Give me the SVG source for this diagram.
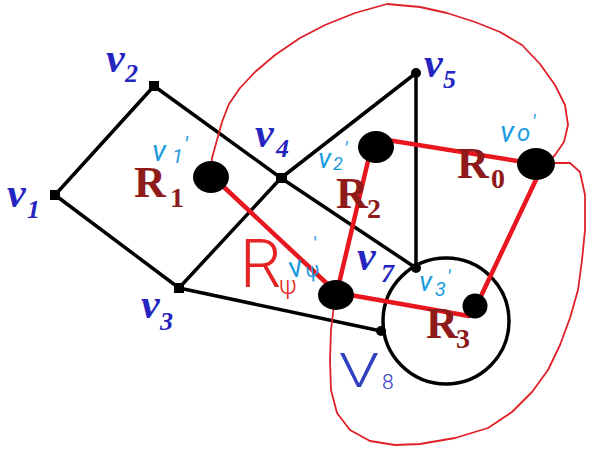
<svg xmlns="http://www.w3.org/2000/svg" width="602" height="450" viewBox="0 0 602 450">
<style>
.edge{stroke:#000;stroke-width:3.5;fill:none;stroke-linecap:round}
.dual{stroke:#e8161e;stroke-width:4.5;fill:none;stroke-linecap:round}
.blob{stroke:#e02028;stroke-width:1.8;fill:none;stroke-linejoin:round;stroke-linecap:round}
.vx{fill:#000}
.dot{fill:#000}
.vl{font-family:"Liberation Serif",serif;font-style:italic;font-weight:bold;fill:#2424c0}
.vm{font-size:42px}
.vs{font-size:26px}
.rl{font-family:"Liberation Serif",serif;font-weight:bold;fill:#8e1a1a}
.rm{font-size:44px}
.rs{font-size:28px}
.hw{font-family:"Roboto","DejaVu Sans",sans-serif;font-weight:400;font-style:italic;fill:#1c9ce0}
.hb{font-family:"Roboto","DejaVu Sans",sans-serif;font-weight:300;fill:#3040c0}
.hr{font-family:"Roboto","DejaVu Sans",sans-serif;font-weight:300;fill:#e52525}
</style>
<g id="connectors">
<line class="edge" x1="55" y1="195" x2="154" y2="86"/>
<line class="edge" x1="55" y1="195" x2="179" y2="288"/>
<line class="edge" x1="154" y1="86" x2="281" y2="178"/>
<line class="edge" x1="281" y1="178" x2="416" y2="268"/>
<line class="edge" x1="179" y1="288" x2="281" y2="178"/>
<line class="edge" x1="281" y1="178" x2="416" y2="73"/>
<line class="edge" x1="416" y1="73" x2="416" y2="268"/>
<line class="edge" x1="179" y1="288" x2="381" y2="331"/>
<circle class="edge" cx="446" cy="321" r="63"/>
<polyline class="blob" points="210,176 212,158 217,140 222,122 229,104 240,88 255,72 275,55 300,38 325,25 355,13 387,4 420,7 447,13 475,22 500,32 522,45 540,64 555,85 565,105 568,125 564,142 555,155 547,163 570,163 580,172 585,195 585,230 582,260 578,290 570,318 560,345 548,370 532,392 512,412 488,428 455,438 420,444 395,445 370,441 350,430 337,413 331,390 330,360 331,330 334,305 336,293"/>
<line class="dual" x1="211" y1="175" x2="337" y2="293"/>
<line class="dual" x1="337" y1="292" x2="373" y2="140"/>
<line class="dual" x1="381" y1="139" x2="542" y2="165"/>
<line class="dual" x1="542" y1="167" x2="473" y2="313"/>
<line class="dual" x1="339" y1="293" x2="469" y2="316"/>
</g>
<g id="v1"><rect class="vx" x="50" y="190" width="10" height="10"/><text class="vl vm" x="7" y="207">v</text><text class="vl vs" x="27" y="218">1</text></g>
<g id="v2"><rect class="vx" x="149" y="81" width="10" height="10"/><text class="vl vm" x="106" y="72">v</text><text class="vl vs" x="125" y="82">2</text></g>
<g id="v3"><rect class="vx" x="174" y="283" width="10" height="10"/><text class="vl vm" x="141" y="318">v</text><text class="vl vs" x="160" y="330">3</text></g>
<g id="v4"><rect class="vx" x="276" y="173" width="11" height="10"/><text class="vl vm" x="255" y="147">v</text><text class="vl vs" x="276" y="157">4</text></g>
<g id="v5"><circle class="vx" cx="416" cy="73" r="5"/><text class="vl vm" x="424" y="77">v</text><text class="vl vs" x="443" y="88">5</text></g>
<g id="v7"><circle class="vx" cx="416" cy="268" r="5"/><text class="vl vm" x="357" y="270">v</text><text class="vl vs" x="381" y="282">7</text></g>
<g id="v8"><circle class="vx" cx="381" cy="331" r="5"/><text class="hb" font-size="48" transform="translate(339 387) scale(1.35 1)">V</text><text class="hb" x="382" y="389" font-size="21">8</text></g>
<g id="R1"><text class="rl rm" x="134" y="197">R</text><text class="rl rs" x="170" y="207">1</text></g>
<g id="R2"><text class="rl rm" x="336" y="208">R</text><text class="rl rs" x="367" y="218">2</text></g>
<g id="R0"><text class="rl rm" x="457" y="178">R</text><text class="rl rs" x="491" y="188">0</text></g>
<g id="R3"><text class="rl rm" x="426" y="338">R</text><text class="rl rs" x="456" y="348">3</text></g>
<g id="Rpsi"><text class="hr" x="240" y="287" font-size="66">R</text><text class="hr" x="279" y="294" font-size="26">ψ</text></g>
<g id="d1"><ellipse class="dot" cx="211" cy="177" rx="18" ry="16"/><text class="hw" font-size="30"><tspan x="152" y="161">v</tspan><tspan x="172" y="163" font-size="20">1</tspan><tspan x="184" y="152" font-size="22">'</tspan></text></g>
<g id="d2"><ellipse class="dot" cx="376" cy="147" rx="18" ry="16"/><text class="hw" font-size="28"><tspan x="318" y="168">v</tspan><tspan x="333" y="170" font-size="18">2</tspan><tspan x="344" y="156" font-size="20">'</tspan></text></g>
<g id="d0"><ellipse class="dot" cx="536" cy="164" rx="19" ry="16"/><text class="hw" font-size="30"><tspan x="500" y="142">v</tspan><tspan x="517" y="141" font-size="24">o</tspan><tspan x="532" y="129" font-size="20">'</tspan></text></g>
<g id="dpsi"><ellipse class="dot" cx="336" cy="295" rx="18" ry="15"/><text class="hw" font-size="30" transform="rotate(-15 293 278)"><tspan x="291" y="278">v</tspan><tspan x="307" y="282" font-size="20">ψ</tspan><tspan x="322" y="258" font-size="20">'</tspan></text></g>
<g id="d3"><ellipse class="dot" cx="475" cy="306" rx="12.5" ry="12.5"/><text class="hw" font-size="28"><tspan x="419" y="291">v</tspan><tspan x="435" y="296" font-size="20">3</tspan><tspan x="447" y="284" font-size="20">'</tspan></text></g>
</svg>
